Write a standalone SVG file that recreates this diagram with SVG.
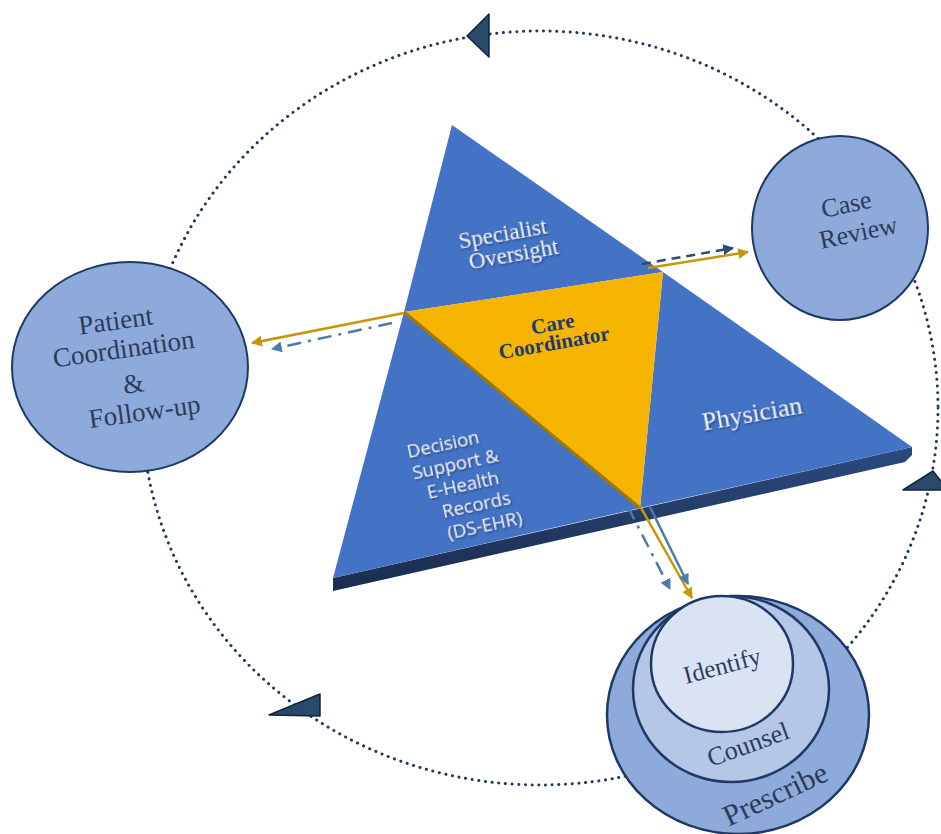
<svg xmlns="http://www.w3.org/2000/svg" width="941" height="834" viewBox="0 0 941 834">
<defs>
<style>
.ser{font-family:"Liberation Serif","DejaVu Serif",serif;}
.san{font-family:"Open Sans","Liberation Sans",sans-serif;}
.ctxt{fill:#2c3b5a;text-anchor:middle;}
.ttxt{fill:#eef0f4;text-anchor:middle;}
.circ{fill:#8eaadb;stroke:#1f3864;stroke-width:2;}
.tri{fill:#4472c4;}
.dots{fill:none;stroke:#1f3a5a;stroke-width:3;stroke-linecap:round;stroke-dasharray:0.1 6.6;}
.tip{fill:#2b4a6b;stroke:#10233d;stroke-width:1.5;stroke-linejoin:round;}
.gold{stroke:#c8960a;stroke-width:2.5;fill:none;}
.blue{stroke:#4a7bab;stroke-width:2.5;fill:none;}
.navy{stroke:#2d4d6b;stroke-width:2.5;fill:none;}
</style>
<marker id="mg" viewBox="0 0 10 10" refX="9" refY="5" markerWidth="11" markerHeight="11" markerUnits="userSpaceOnUse" orient="auto"><path d="M0,0 L10,5 L0,10 z" fill="#c8960a"/></marker>
<marker id="mb" viewBox="0 0 10 10" refX="9" refY="5" markerWidth="11" markerHeight="11" markerUnits="userSpaceOnUse" orient="auto"><path d="M0,0 L10,5 L0,10 z" fill="#4a7bab"/></marker>
<marker id="mn" viewBox="0 0 10 10" refX="9" refY="5" markerWidth="11" markerHeight="11" markerUnits="userSpaceOnUse" orient="auto"><path d="M0,0 L10,5 L0,10 z" fill="#2d4d6b"/></marker>
<linearGradient id="side" x1="0" y1="0" x2="0" y2="1"><stop offset="0" stop-color="#2c4a80"/><stop offset="1" stop-color="#1a2c4e"/></linearGradient>
<filter id="sh" x="-10%" y="-10%" width="120%" height="130%"><feDropShadow dx="1" dy="1.5" stdDeviation="0.8" flood-color="#000" flood-opacity="0.45"/></filter>
</defs>
<rect width="941" height="834" fill="#ffffff"/>

<g id="cycle">
<ellipse class="dots" cx="540" cy="408" rx="398" ry="377"/>
<polygon class="tip" points="489,14 489,57 467,36"/>
<polygon class="tip" points="269,715 320,694 320,716"/>
<polygon class="tip" points="903,490 933,471 948,490"/>
</g>

<g id="pyramid">
<polygon points="333,578 912,447 912,455 905,462 333,591" fill="url(#side)"/>
<g id="specialist">
<polygon class="tri" points="452,125 404,312 663,272"/>
<g transform="rotate(-10 510 240)" filter="url(#sh)" font-size="23"><text class="ser ttxt" x="504" y="240">Specialist</text><text class="ser ttxt" x="511" y="262">Oversight</text></g>
</g>
<g id="decision">
<polygon class="tri" points="404,312 640,508 333,578"/>
<g transform="rotate(-12 465 485)" filter="url(#sh)" font-size="18.5">
<text class="san ttxt" x="452" y="447">Decision</text>
<text class="san ttxt" x="460" y="469">Support &amp;</text>
<text class="san ttxt" x="463" y="491">E-Health</text>
<text class="san ttxt" x="472" y="513">Records</text>
<text class="san ttxt" x="476" y="535">(DS-EHR)</text>
</g>
</g>
<g id="physician">
<polygon class="tri" points="663,272 912,447 640,508"/>
<text class="ser ttxt" x="752" y="422" font-size="26" transform="rotate(-10 752 413)" filter="url(#sh)">Physician</text>
</g>
<g id="care-coordinator">
<polygon points="404,312 663,272 640,508" fill="#f4b400"/>
<line x1="404" y1="312" x2="640" y2="508" stroke="#a07a00" stroke-width="3"/>
<g transform="rotate(-10 552 337)" font-weight="bold" font-size="21">
<text class="ser" x="555" y="331" fill="#1f3a6e" text-anchor="middle">Care</text>
<text class="ser" x="553" y="350" fill="#1f3a6e" text-anchor="middle">Coordinator</text>
</g>
</g>
</g>

<g id="connectors">
<line class="gold" x1="404" y1="313" x2="252" y2="343" marker-end="url(#mg)"/>
<line class="blue" x1="392" y1="323" x2="272" y2="349" stroke-dasharray="14 7 3 7" marker-end="url(#mb)"/>
<line class="gold" x1="648" y1="268" x2="748" y2="252" marker-end="url(#mg)"/>
<line class="navy" x1="642" y1="264" x2="733" y2="248" stroke-dasharray="9 6" marker-end="url(#mn)"/>
<line class="gold" x1="640" y1="506" x2="692" y2="598" marker-end="url(#mg)"/>
<line class="blue" x1="650" y1="507" x2="688" y2="584" marker-end="url(#mb)"/>
<line class="blue" x1="628" y1="507" x2="670" y2="589" stroke-dasharray="14 7 3 7" marker-end="url(#mb)"/>
</g>

<g id="case-review">
<ellipse class="circ" cx="840" cy="228" rx="88" ry="92"/>
<g transform="rotate(-12 852 222)" font-size="26"><text class="ser ctxt" x="850" y="212">Case</text><text class="ser ctxt" x="856" y="242">Review</text></g>
</g>

<g id="patient-coordination">
<ellipse class="circ" cx="130" cy="367" rx="118" ry="105"/>
<g transform="rotate(-8 130 366)" font-size="27">
<text class="ser ctxt" x="122" y="328">Patient</text>
<text class="ser ctxt" x="126" y="357">Coordination</text>
<text class="ser ctxt" x="131" y="393">&amp;</text>
<text class="ser ctxt" x="138" y="422">Follow-up</text>
</g>
</g>

<g id="prescribe">
<ellipse cx="738" cy="715" rx="131" ry="119" fill="#8eaadb" stroke="#1f3864" stroke-width="2.5"/>
<g id="counsel">
<ellipse cx="731" cy="689" rx="98" ry="93" fill="#b4c7e7" stroke="#1f3864" stroke-width="2.5"/>
</g>
<g id="identify">
<ellipse cx="722" cy="664" rx="71" ry="68" fill="#dae3f3" stroke="#1f3864" stroke-width="2.5"/>
<text class="ser ctxt" x="722" y="674" font-size="25" transform="rotate(-15 722 665)">Identify</text>
</g>
<text class="ser ctxt" x="748" y="753" font-size="26" transform="rotate(-20 748 744)">Counsel</text>
<text class="ser ctxt" x="776" y="804" font-size="30" transform="rotate(-25 776 796)">Prescribe</text>
</g>
</svg>
